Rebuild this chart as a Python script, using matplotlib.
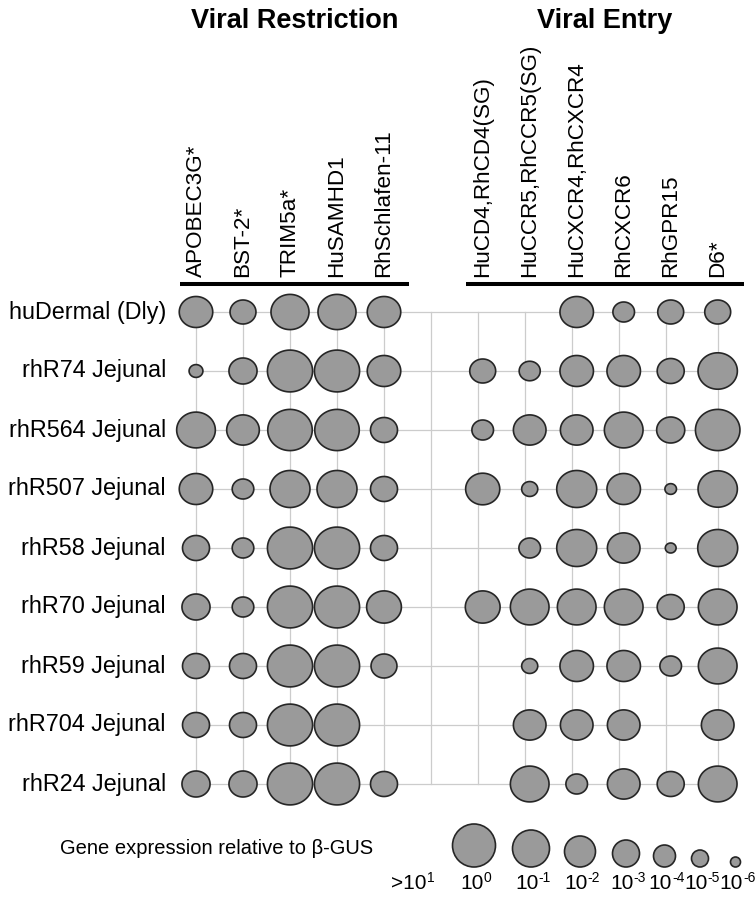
import numpy as np
import matplotlib
matplotlib.use('Agg')
import matplotlib.pyplot as plt
from matplotlib import font_manager
from matplotlib.path import Path

plt.rcParams['font.family'] = ['Liberation Sans', 'DejaVu Sans']

restriction_genes = ['APOBEC3G*', 'BST-2*', 'TRIM5a*', 'HuSAMHD1', 'RhSchlafen-11']
entry_genes = ['HuCD4,RhCD4(SG)', 'HuCCR5,RhCCR5(SG)', 'HuCXCR4,RhCXCR4',
               'RhCXCR6', 'RhGPR15', 'D6*']
samples = ['huDermal (Dly)', 'rhR74 Jejunal', 'rhR564 Jejunal', 'rhR507 Jejunal',
           'rhR58 Jejunal', 'rhR70 Jejunal', 'rhR59 Jejunal', 'rhR704 Jejunal',
           'rhR24 Jejunal']

nan = np.nan
restriction_log = np.array([
    [-2.0, -3.6, -1.3, -1.3, -2.0],
    [-5.6, -3.2, -0.2, -0.2, -2.0],
    [-1.2, -2.2, -0.3, -0.3, -3.4],
    [-2.0, -4.4, -1.0, -1.0, -3.4],
    [-3.4, -4.4, -0.2, -0.2, -3.4],
    [-3.2, -4.4, -0.2, -0.2, -1.8],
    [-3.4, -3.4, -0.2, -0.2, -3.6],
    [-3.4, -3.4, -0.2, -0.2, nan],
    [-3.2, -3.2, -0.2, -0.2, -3.4],
])
entry_log = np.array([
    [nan, nan, -2.0, -4.4, -3.6, -3.6],
    [-3.6, -4.5, -2.0, -2.0, -3.4, -1.1],
    [-4.4, -2.2, -2.2, -1.2, -3.2, -0.3],
    [-1.9, -5.3, -1.0, -2.0, -5.9, -1.1],
    [nan, -4.4, -1.0, -2.2, -6.0, -1.0],
    [-1.8, -1.2, -1.2, -1.2, -3.4, -1.2],
    [nan, -5.3, -2.0, -2.0, -4.4, -1.2],
    [nan, -2.2, -2.2, -2.2, nan, -2.2],
    [nan, -1.2, -4.4, -2.2, -3.4, -1.2],
])
legend_levels = [1, 0, -1, -2, -3, -4, -5, -6]

# escala de tamano (diametro en pixeles por decada)
SCALE_EXP = [-6, -5, -4, -3, -2, -1, 0]
SCALE_PX = [10, 17, 22, 27, 31, 37, 43]
STRETCH = 1.08  # las burbujas del grafico son algo mas anchas que altas

FILL = '#9a9a9a'
EDGE = '#262626'
GRID = '#cccccc'


def diametro(e):
    return np.interp(e, SCALE_EXP, SCALE_PX)


# titulo en fuente estrecha si esta instalada
try:
    font_manager.findfont(font_manager.FontProperties(family='Liberation Sans Narrow',
                                                      weight='bold'),
                          fallback_to_default=False)
    TITLE_FONT = dict(family=['Liberation Sans Narrow', 'Liberation Sans'], fontsize=23)
except Exception:
    TITLE_FONT = dict(family=['Liberation Sans', 'DejaVu Sans'], fontsize=19.5)

fig = plt.figure(figsize=(7.55, 8.98), dpi=100)
W, H = 755, 898
# ejes principales: x = columna, y = fila
X0, DX, Y0, DY = 196, 47, 312, 59
xlim = (-0.5, 11.6)
ylim = (8.5, -0.5)
left = X0 + xlim[0] * DX
right = X0 + xlim[1] * DX
top = Y0 + ylim[1] * DY
bottom = Y0 + ylim[0] * DY
ax = fig.add_axes([left / W, 1 - bottom / H, (right - left) / W, (bottom - top) / H])
ax.set_xlim(*xlim)
ax.set_ylim(*ylim)
ax.axis('off')

rest_x = np.arange(len(restriction_genes))
entry_x = np.arange(len(entry_genes)) + 6.1
rows = np.arange(len(samples))

# rejilla
grid_x = np.append(np.arange(11), entry_x[-1])
for gx in grid_x:
    ax.plot([gx, gx], [rows[0], rows[-1]], color=GRID, lw=0.9, zorder=1)
for r in rows:
    ax.plot([0, entry_x[-1]], [r, r], color=GRID, lw=0.9, zorder=1)

theta = np.linspace(0, 2 * np.pi, 120)
ell = Path(np.column_stack([STRETCH * np.cos(theta), np.sin(theta)]), closed=True)

for xs, vals in [(rest_x, restriction_log), (entry_x, entry_log)]:
    gx, gy = np.meshgrid(xs, rows)
    m = ~np.isnan(vals)
    d = diametro(vals[m])
    s = (0.72 * d * STRETCH) ** 2
    ax.scatter(gx[m], gy[m], s=s, marker=ell, facecolor=FILL, edgecolor=EDGE,
               linewidth=1.2, zorder=3)

# etiquetas de columnas
for x, g in zip(np.concatenate([rest_x, entry_x]), restriction_genes + entry_genes):
    ax.text(x, -0.595, g, rotation=90, ha='center', va='bottom', fontsize=16.2,
            clip_on=False)

# etiquetas de filas
for r, s_ in zip(rows, samples):
    ax.text(-0.64, r, s_, ha='right', va='center', fontsize=16.8, clip_on=False)

# barras de cabecera y titulos
ax.plot([-0.34, 4.53], [-0.475, -0.475], color='black', lw=2.9,
        solid_capstyle='butt', clip_on=False)
ax.plot([5.74, 11.66], [-0.475, -0.475], color='black', lw=2.9,
        solid_capstyle='butt', clip_on=False)
ax.text((-0.34 + 4.53) / 2, -4.93, 'Viral Restriction', ha='center', va='center',
        fontweight='bold', clip_on=False, **TITLE_FONT)
ax.text((5.74 + 11.66) / 2, -4.93, 'Viral Entry', ha='center', va='center',
        fontweight='bold', clip_on=False, **TITLE_FONT)

# leyenda
ax_leg = fig.add_axes([0, 0, 1, 78 / H])
ax_leg.set_xlim(0, W)
ax_leg.set_ylim(78, 0)
ax_leg.axis('off')
ax_leg.text(60, 28, 'Gene expression relative to β-GUS', ha='left', va='center',
            fontsize=14.5)

circ_levels = [lv for lv in legend_levels if lv <= 0]
dl = diametro(np.array(circ_levels, dtype=float))
gaps = [17, 15, 17, 14, 16, 22]
cx = [474.0]
for i in range(1, len(dl)):
    cx.append(cx[-1] + dl[i - 1] / 2 + gaps[i - 1] + dl[i] / 2)
cx = np.array(cx)
base = 47
ax_leg.scatter(cx, base - dl / 2, s=(0.72 * dl) ** 2, marker='o', facecolor=FILL,
               edgecolor=EDGE, linewidth=1.2, zorder=3)

# etiquetas 10^n: base y exponente en dos textos, luego centrados
label_x = np.concatenate([[cx[0] - 61], cx + 2])
renderer = fig.canvas.get_renderer()
for x, lv in zip(label_x, legend_levels):
    main = ('>' if lv > 0 else '') + '10'
    t1 = ax_leg.text(x, 69, main, ha='left', va='baseline', fontsize=15)
    t2 = ax_leg.text(x, 62, str(lv), ha='left', va='baseline', fontsize=10)
    w1 = t1.get_window_extent(renderer).width
    w2 = t2.get_window_extent(renderer).width
    x_start = x - (w1 + w2) / 2
    t1.set_x(x_start)
    t2.set_x(x_start + w1)

fig.savefig('out.png', dpi=100)
